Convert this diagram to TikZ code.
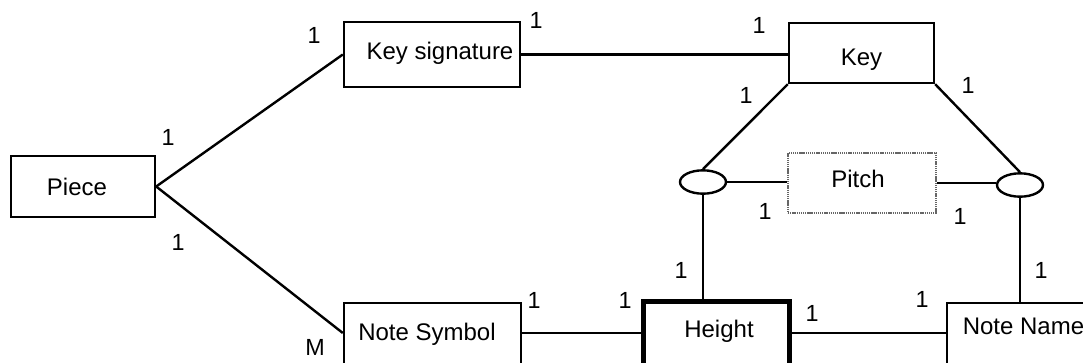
\documentclass[tikz,border=0pt]{standalone}
\usepackage{fontspec}
\setmainfont{Liberation Sans}
\usetikzlibrary{shapes.geometric}
\begin{document}
\begin{tikzpicture}[x=0.75pt,y=-0.75pt,
  box/.style={draw, line width=1.8pt, inner sep=0pt, anchor=base, font=\fontsize{18}{20}\selectfont},
  conn/.style={line width=1.8pt},
  card/.style={inner sep=0pt, font=\fontsize{17.5}{19}\selectfont},
  rel/.style={draw, ellipse, line width=1.8pt, inner sep=0pt, minimum width=34.5pt, minimum height=17.5pt}]
\useasboundingbox (0,0) rectangle (1083,362);

% entity boxes (placed at text baseline)
\node[box, text height=29.25pt, text depth=16.5pt, minimum width=108pt] (piece) at (83,195) {Piece\hspace*{9pt}};
\node[box, text height=27.75pt, text depth=21pt, minimum width=132pt] (ks) at (432,59) {\hspace*{12pt}Key signature};
\node[box, text height=31.5pt, text depth=13.5pt, minimum width=108.75pt] (key) at (861.5,65) {Key};
\node[box, draw=black!60, dash pattern=on 1pt off 0.6pt, text height=25.5pt, text depth=19.5pt, minimum width=111pt] (pitch) at (862,187) {Pitch\hspace*{6pt}};
\node[box, text height=27.75pt, text depth=24pt, minimum width=132.75pt] (ns) at (432.5,340) {Note Symbol\hspace*{8.25pt}};
\node[box, line width=3.75pt, text height=27pt, text depth=26.25pt, minimum width=109.5pt] (h) at (716,337) {\hspace*{4.5pt}Height};
\node[box, text height=23.25pt, text depth=28.5pt, minimum width=122.25pt] (nn) at (1028.5,334) {Note Name\hspace*{7.5pt}};

% relationship ellipses
\node[rel] (le) at (703,182) {};
\node[rel] (re) at (1020,185) {};

\coordinate (row) at (0,333);

% connectors
\draw[conn] (piece.east) -- (ks.west);
\draw[conn] (piece.east) -- (ns.west |- row);
\draw[conn] (ks.east) -- (ks.east -| key.west);
\draw[conn] (key.south west) -- (le.north);
\draw[conn] (key.south east) -- (re.north);
\draw[conn] (le.east) -- (le.east -| pitch.west);
\draw[conn] (pitch.east) -- (pitch.east -| re.west);
\draw[conn] (le.south) -- (le.south |- h.north);
\draw[conn] (re.south) -- (re.south |- nn.north);
\draw[conn] (ns.east |- row) -- (h.west |- row);
\draw[conn] (h.east |- row) -- (nn.west |- row);

% cardinalities
\node[card] (c1) at (314,35) {1};
\node[card] (c2) at (536,20) {1};
\node[card] (c3) at (759,25) {1};
\node[card] (c4) at (168,137) {1};
\node[card] (c5) at (178,242) {1};
\node[card] (c6) at (315,347) {M};
\node[card] (c7) at (746,95) {1};
\node[card] (c8) at (968,85) {1};
\node[card] (c9) at (765,211) {1};
\node[card] (c10) at (960,216) {1};
\node[card] (c11) at (681,270) {1};
\node[card] (c12) at (1041,270) {1};
\node[card] (c13) at (534,300) {1};
\node[card] (c14) at (625,300) {1};
\node[card] (c15) at (812,313) {1};
\node[card] (c16) at (922,299) {1};
\end{tikzpicture}
\end{document}
